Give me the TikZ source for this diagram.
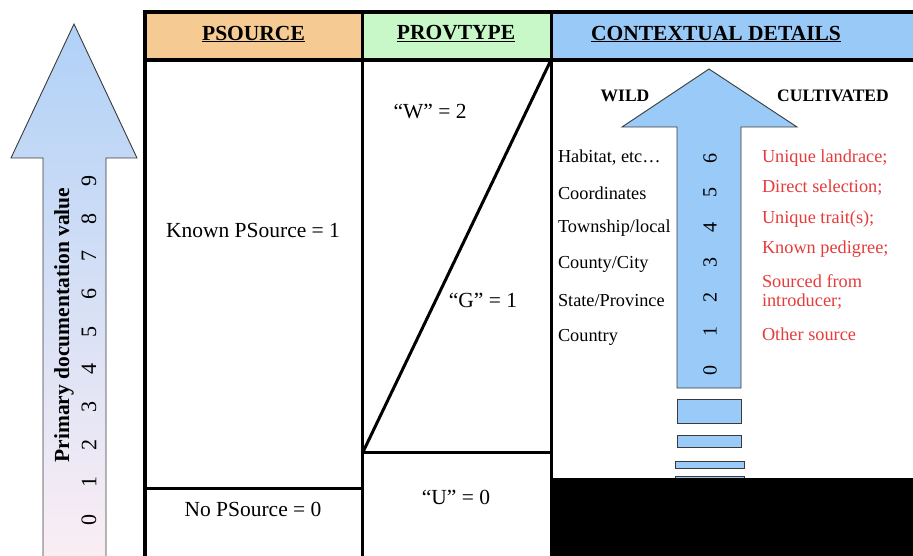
\documentclass[tikz,border=0pt]{standalone}
\usepackage{fontspec}
\setmainfont{Liberation Serif}
\definecolor{hdrorange}{HTML}{F5CB93}
\definecolor{hdrgreen}{HTML}{C8F7C8}
\definecolor{hdrblue}{HTML}{99C9F7}
\definecolor{arrowblue}{HTML}{99CAF8}
\definecolor{lefttop}{HTML}{B0D1F7}
\definecolor{leftmid}{HTML}{DCE6F6}
\definecolor{leftbot}{HTML}{FBEEF4}
\definecolor{redtxt}{HTML}{E53B3B}
\definecolor{edgegray}{HTML}{3A3A3A}
\begin{document}
\begin{tikzpicture}[x=1pt,y=-1pt,
  every node/.style={inner sep=0pt, outer sep=0pt},
  cell/.style={font=\fontsize{21.5}{24}\selectfont},
  hdr/.style={font=\bfseries\fontsize{21.5}{24}\selectfont},
  lab/.style={font=\fontsize{18.3}{20}\selectfont, anchor=west},
  redlab/.style={lab, text=redtxt, align=left},
  sidelab/.style={font=\bfseries\fontsize{17.5}{20}\selectfont},
  digit/.style={font=\fontsize{22}{24}\selectfont, rotate=90},
  sdigit/.style={font=\fontsize{20}{22}\selectfont, rotate=90},
  thickline/.style={line width=4pt},
  inline/.style={line width=3pt},
  arrowedge/.style={draw=edgegray, line width=0.9pt},
  barbox/.style={fill=arrowblue, draw=edgegray, line width=1pt}
]
\useasboundingbox (0,0) rectangle (913,556);
\begin{scope}
\clip (0,0) rectangle (913,556);
% left gradient arrow
\shade[top color=lefttop, middle color=leftmid, bottom color=leftbot, arrowedge]
  (74,24) -- (137,158) -- (106,158) -- (106,562) -- (43,562) -- (43,158) -- (11,158) -- cycle;
\node[rotate=90, font=\bfseries\fontsize{21.5}{24}\selectfont] (pdv) at (64,325) {Primary documentation value};
\foreach \d/\yy in {0/520,1/482,2/445,3/407,4/369,5/332,6/294,7/256,8/219,9/181}{
  \node[digit] (ld\d) at (89,\yy) {\d};
}
% header fills
\fill[hdrorange] (145,12) rectangle (362,60);
\fill[hdrgreen] (362,12) rectangle (551,60);
\fill[hdrblue] (551,12) rectangle (930,60);
% black block
\fill[black] (552,478) rectangle (930,570);
% table lines
\draw[thickline] (145,12) rectangle (940,575);
\draw[thickline] (145,60) -- (940,60);
\draw[inline] (362,12) -- (362,575);
\draw[inline] (551,12) -- (551,575);
\draw[inline] (145,488) -- (362,488);
\draw[inline] (362,452) -- (551,452);
\draw[inline] (550,62) -- (363,452);
% headers
\node[hdr] (h1) at (253.5,34) {\underline{PSOURCE}};
\node[hdr] (h2) at (456,34) {\underline{PROVTYPE}};
\node[hdr] (h3) at (716,34) {\underline{CONTEXTUAL DETAILS}};
% cells
\node[cell] (kps) at (253,230) {Known PSource = 1};
\node[cell] (nps) at (253,509) {No PSource = 0};
\node[cell] (w2) at (430,112) {“W” = 2};
\node[cell] (g1) at (483,300) {“G” = 1};
\node[cell] (u0) at (456,497) {“U” = 0};
% right arrow
\filldraw[fill=arrowblue, arrowedge]
  (709,69) -- (797,127) -- (741,127) -- (741,388) -- (677,388) -- (677,127) -- (622,127) -- cycle;
\foreach \d/\yy in {0/370,1/331,2/297,3/263,4/228,5/193,6/159}{
  \node[sdigit] (rd\d) at (710,\yy) {\d};
}
\draw[barbox] (677,399) rectangle (741,423);
\draw[barbox] (677,435) rectangle (741,447);
\draw[barbox] (675,461) rectangle (744,468);
\draw[barbox] (675,476) rectangle (744,490);
\fill[black] (552,478) rectangle (930,570);
% side labels
\node[sidelab] (wild) at (625,96) {WILD};
\node[sidelab] (cult) at (833,96) {CULTIVATED};
% wild list
\node[lab] (l1) at (558,158) {Habitat, etc…};
\node[lab] (l2) at (558,193) {Coordinates};
\node[lab] (l3) at (558,228) {Township/local};
\node[lab] (l4) at (558,264) {County/City};
\node[lab] (l5) at (558,301) {State/Province};
\node[lab] (l6) at (558,337) {Country};
% cultivated list
\node[redlab] (r1) at (762,158) {Unique landrace;};
\node[redlab] (r2) at (762,188) {Direct selection;};
\node[redlab] (r3) at (762,219) {Unique trait(s);};
\node[redlab] (r4) at (762,249) {Known pedigree;};
\node[redlab] (r5) at (762,281) {Sourced from};
\node[redlab] (r5b) at (762,302) {introducer;};
\node[redlab] (r6) at (762,334) {Other source};
\end{scope}
\end{tikzpicture}
\end{document}
